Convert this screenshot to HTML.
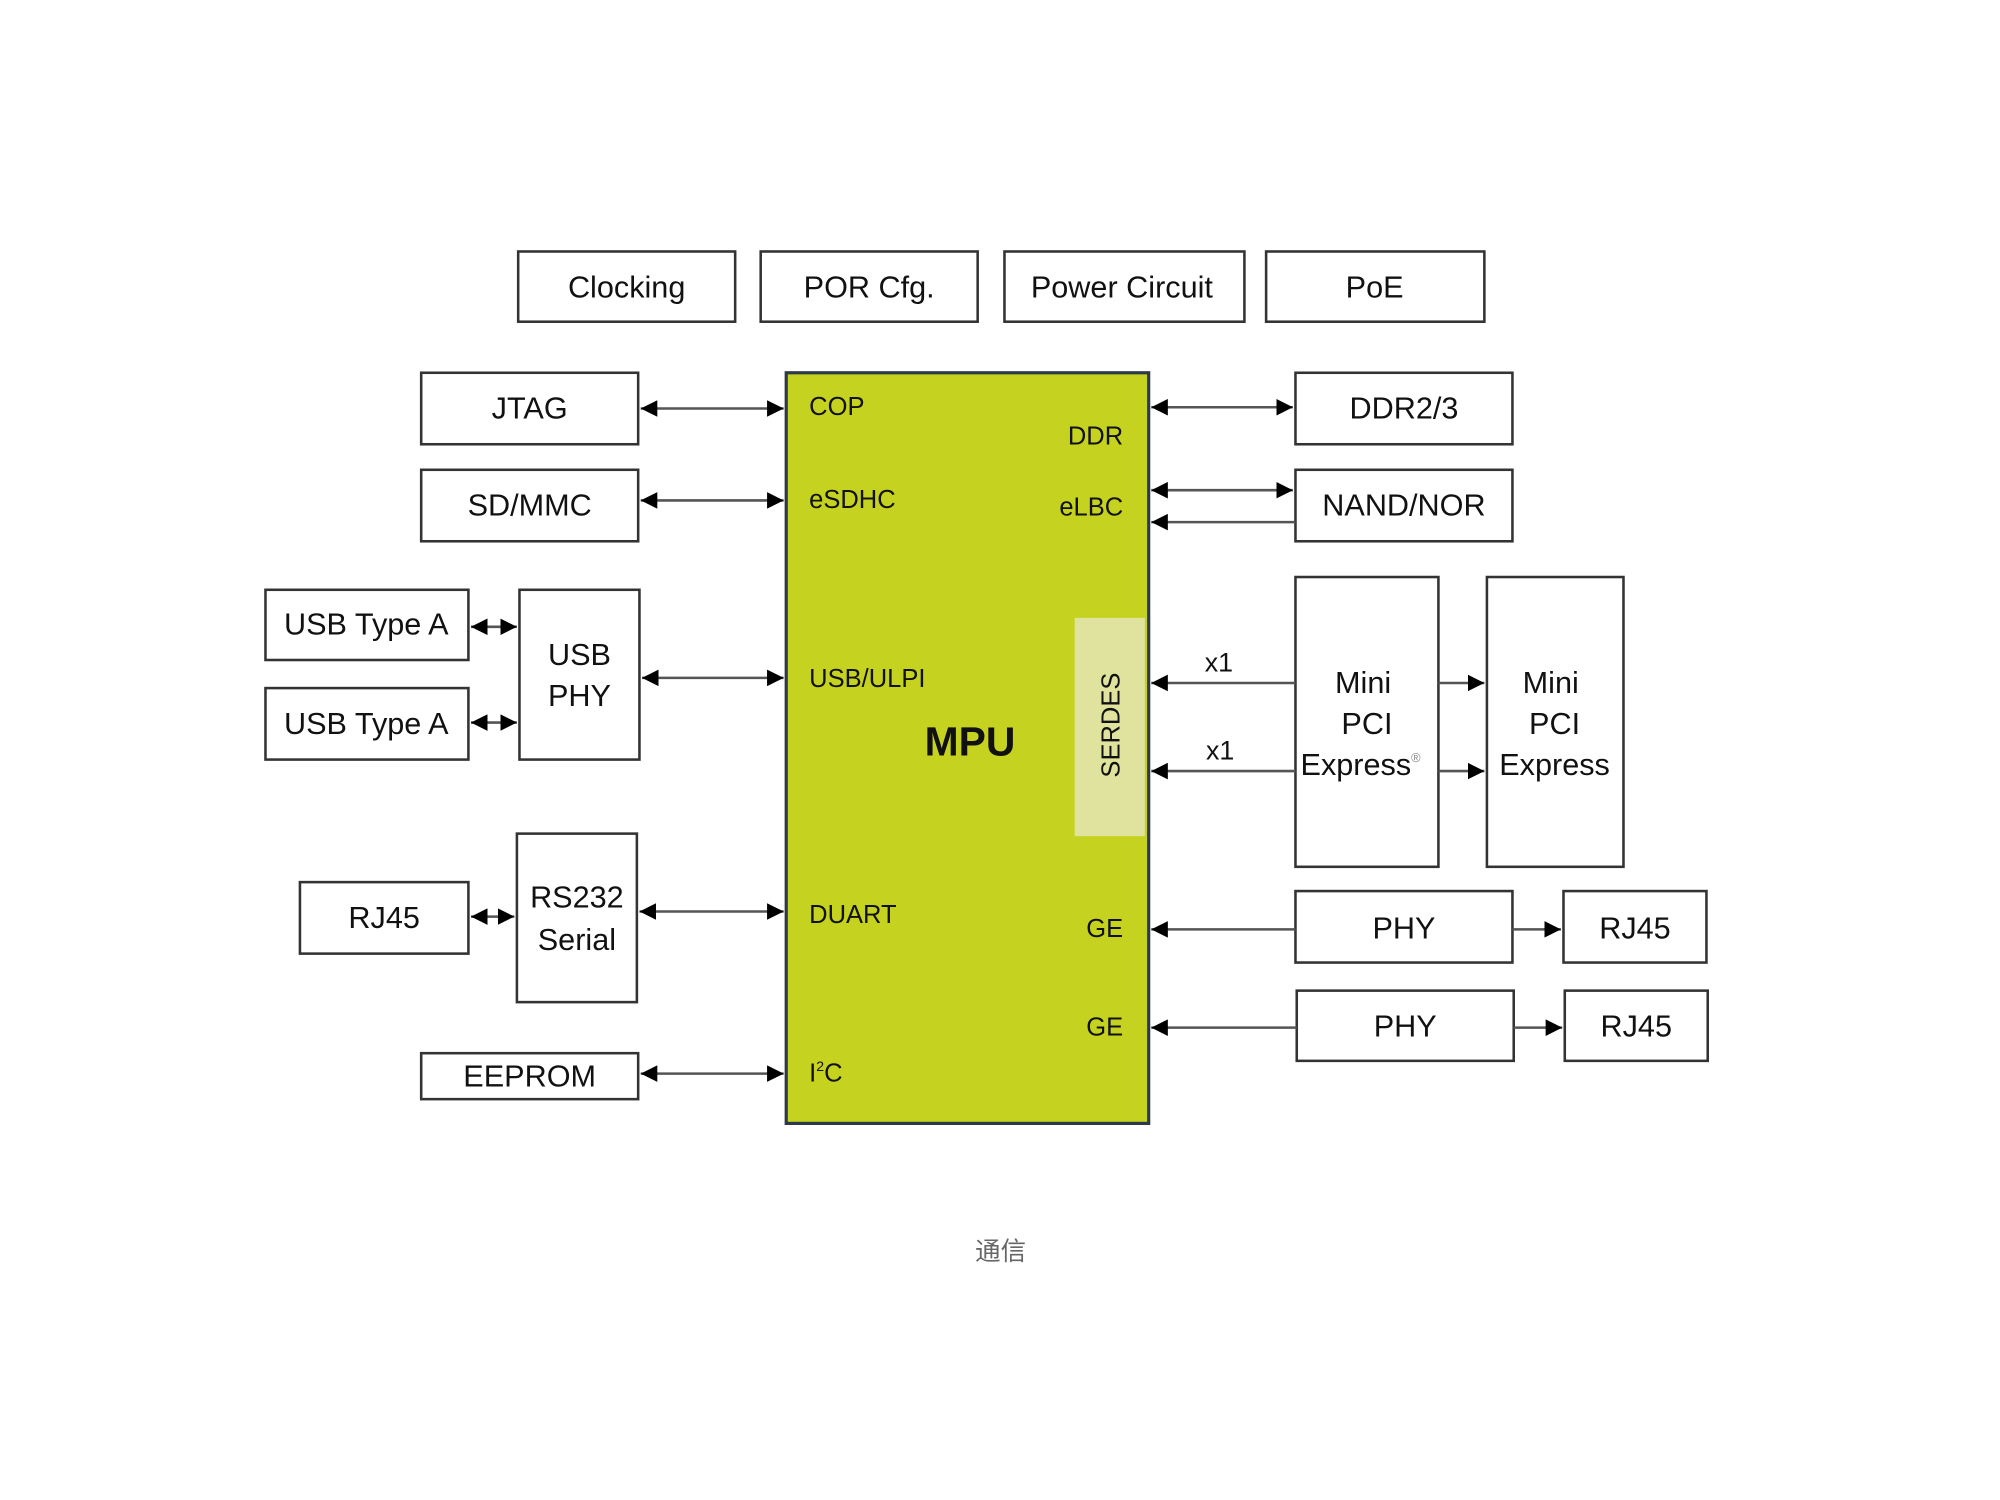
<!DOCTYPE html>
<html><head><meta charset="utf-8"><style>
html,body{margin:0;padding:0;background:#fff;}
svg{display:block;}
text{font-family:"Liberation Sans","Noto Sans CJK SC",sans-serif;fill:#111;}
</style></head><body>
<svg width="2000" height="1500" viewBox="0 0 1567 1175" preserveAspectRatio="none" xmlns="http://www.w3.org/2000/svg">
<defs>
<marker id="a" viewBox="0 0 10 10" refX="10" refY="5" markerWidth="13" markerHeight="13" markerUnits="userSpaceOnUse" orient="auto-start-reverse"><path d="M0,0L10,5L0,10z" fill="#000"/></marker>
</defs>
<g fill="#fff" stroke="#333" stroke-width="2">
<rect x="406" y="197" width="170" height="55"/>
<rect x="596" y="197" width="170" height="55"/>
<rect x="787" y="197" width="188" height="55"/>
<rect x="992" y="197" width="171" height="55"/>
<rect x="330" y="292" width="170" height="56"/>
<rect x="330" y="368" width="170" height="56"/>
<rect x="208" y="462" width="159" height="55"/>
<rect x="208" y="539" width="159" height="56"/>
<rect x="407" y="462" width="94" height="133"/>
<rect x="235" y="691" width="132" height="56"/>
<rect x="405" y="653" width="94" height="132"/>
<rect x="330" y="825" width="170" height="36"/>
<rect x="1015" y="292" width="170" height="56"/>
<rect x="1015" y="368" width="170" height="56"/>
<rect x="1015" y="452" width="112" height="227"/>
<rect x="1165" y="452" width="107" height="227"/>
<rect x="1015" y="698" width="170" height="56"/>
<rect x="1225" y="698" width="112" height="56"/>
<rect x="1016" y="776" width="170" height="55"/>
<rect x="1226" y="776" width="112" height="55"/>
</g>
<rect x="616" y="292" width="284" height="588" fill="#c6d220" stroke="#2d3a4a" stroke-width="2.5"/>
<rect x="842" y="484" width="55" height="171" fill="#dfe39d"/>
<g stroke="#555" stroke-width="2" fill="none">
<line x1="502" y1="320" x2="614" y2="320" marker-start="url(#a)" marker-end="url(#a)"/>
<line x1="502" y1="392" x2="614" y2="392" marker-start="url(#a)" marker-end="url(#a)"/>
<line x1="503" y1="531" x2="614" y2="531" marker-start="url(#a)" marker-end="url(#a)"/>
<line x1="501" y1="714" x2="614" y2="714" marker-start="url(#a)" marker-end="url(#a)"/>
<line x1="502" y1="841" x2="614" y2="841" marker-start="url(#a)" marker-end="url(#a)"/>
<line x1="369" y1="491" x2="405" y2="491" marker-start="url(#a)" marker-end="url(#a)"/>
<line x1="369" y1="566" x2="405" y2="566" marker-start="url(#a)" marker-end="url(#a)"/>
<line x1="369" y1="718" x2="403" y2="718" marker-start="url(#a)" marker-end="url(#a)"/>
<line x1="902" y1="319" x2="1013" y2="319" marker-start="url(#a)" marker-end="url(#a)"/>
<line x1="902" y1="384" x2="1013" y2="384" marker-start="url(#a)" marker-end="url(#a)"/>
<line x1="1015" y1="409" x2="902" y2="409" marker-end="url(#a)"/>
<line x1="1015" y1="535" x2="902" y2="535" marker-end="url(#a)"/>
<line x1="1015" y1="604" x2="902" y2="604" marker-end="url(#a)"/>
<line x1="1127" y1="535" x2="1163" y2="535" marker-end="url(#a)"/>
<line x1="1127" y1="604" x2="1163" y2="604" marker-end="url(#a)"/>
<line x1="1015" y1="728" x2="902" y2="728" marker-end="url(#a)"/>
<line x1="1016" y1="805" x2="902" y2="805" marker-end="url(#a)"/>
<line x1="1185" y1="728" x2="1223" y2="728" marker-end="url(#a)"/>
<line x1="1186" y1="805" x2="1224" y2="805" marker-end="url(#a)"/>
</g>
<g font-size="24" text-anchor="middle">
<text x="491" y="233">Clocking</text>
<text x="681" y="233">POR Cfg.</text>
<text x="879" y="233">Power Circuit</text>
<text x="1077" y="233">PoE</text>
<text x="415" y="328">JTAG</text>
<text x="415" y="404">SD/MMC</text>
<text x="287" y="497">USB Type A</text>
<text x="287" y="575">USB Type A</text>
<text x="454" y="521">USB</text>
<text x="454" y="553">PHY</text>
<text x="301" y="727">RJ45</text>
<text x="452" y="711">RS232</text>
<text x="452" y="744">Serial</text>
<text x="415" y="851">EEPROM</text>
<text x="1100" y="328">DDR2/3</text>
<text x="1100" y="404">NAND/NOR</text>
<text x="1068" y="543">Mini</text>
<text x="1071" y="575">PCI</text>
<text x="1066" y="607">Express<tspan font-size="10" fill="#888" dy="-10">®</tspan></text>
<text x="1215" y="543">Mini</text>
<text x="1218" y="575">PCI</text>
<text x="1218" y="607">Express</text>
<text x="1100" y="735">PHY</text>
<text x="1281" y="735">RJ45</text>
<text x="1101" y="812">PHY</text>
<text x="1282" y="812">RJ45</text>
<text x="955" y="526" font-size="21">x1</text>
<text x="956" y="595" font-size="21">x1</text>
</g>
<g font-size="20" fill="#222">
<text x="634" y="325">COP</text>
<text x="634" y="398">eSDHC</text>
<text x="634" y="538">USB/ULPI</text>
<text x="634" y="723">DUART</text>
<text x="634" y="847">I<tspan font-size="11" dy="-8">2</tspan><tspan dy="8">C</tspan></text>
<g text-anchor="end">
<text x="880" y="348">DDR</text>
<text x="880" y="404">eLBC</text>
<text x="880" y="734">GE</text>
<text x="880" y="811">GE</text>
</g>
</g>
<text x="760" y="592" font-size="32" font-weight="bold" text-anchor="middle">MPU</text>
<text x="0" y="0" font-size="20" text-anchor="middle" transform="translate(877,568) rotate(-90)">SERDES</text>
<text x="784" y="987" font-size="20" text-anchor="middle" style="fill:#666">通信</text>
</svg>
</body></html>
